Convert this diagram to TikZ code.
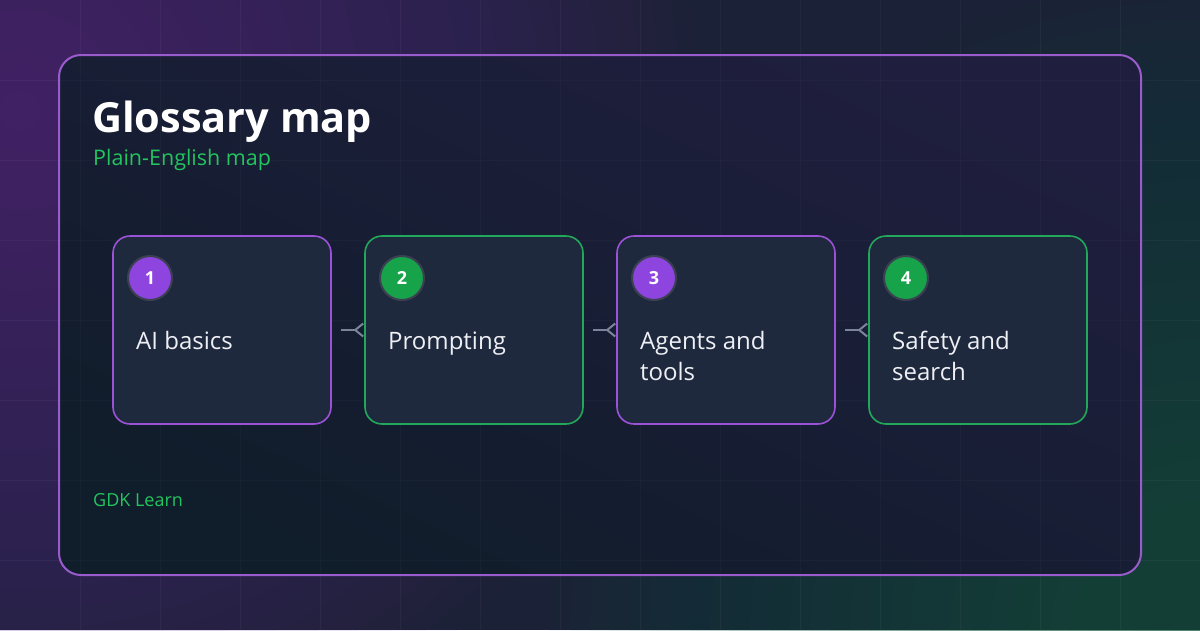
\documentclass[tikz,border=0pt]{standalone}
\usepackage{fontspec}
\setmainfont{Open Sans}
\usetikzlibrary{arrows.meta,calc}
\definecolor{bgbase}{HTML}{1B2136}
\definecolor{glowP}{HTML}{5B3886}
\definecolor{glowG}{HTML}{13573C}
\definecolor{glowT}{HTML}{20344A}
\definecolor{panelL}{HTML}{1F1E3E}
\definecolor{panelR}{HTML}{101D2A}
\definecolor{panelB}{HTML}{9A5CCC}
\definecolor{cardF}{HTML}{1F293D}
\definecolor{cPurple}{HTML}{9B52D6}
\definecolor{cGreen}{HTML}{22A85A}
\definecolor{dPurple}{HTML}{8E44DF}
\definecolor{dGreen}{HTML}{16A34A}
\definecolor{txtG}{HTML}{22C55E}
\definecolor{txtW}{HTML}{EEF0F5}
\definecolor{conn}{HTML}{7C849A}
\definecolor{ring}{HTML}{3C4152}
\tikzset{
  panel/.style={rounded corners=22pt, draw=panelB, line width=2pt, left color=panelL, right color=panelR, shading angle=-25, minimum width=1082pt, minimum height=520pt, inner sep=0pt},
  card/.style={rounded corners=17pt, fill=cardF, line width=1.6pt, minimum width=218pt, minimum height=188pt, inner sep=0pt},
  badge/.style={circle, draw=ring, line width=2pt, minimum size=44pt, inner sep=0pt, text=white, font=\fontsize{18}{20}\selectfont\bfseries},
  label/.style={anchor=base west, text=txtW, align=left, inner sep=0pt, font=\fontsize{24}{31}\selectfont},
  link/.style={draw=conn, line width=2pt, shorten <=9pt, -{Straight Barb[reversed, length=8pt, width=13pt, line width=2pt]}},
}
\begin{document}
\begin{tikzpicture}[x=1pt,y=-1pt]
\useasboundingbox (0,0) rectangle (1200,630);
% background
\fill[bgbase] (0,0) rectangle (1200,630);
\begin{scope}
\clip (0,0) rectangle (1200,630);
\foreach \r in {20,40,...,500} \fill[glowT, opacity=0.03] (1180,30) circle (\r);
\foreach \r in {20,40,...,680} \fill[glowP, opacity=0.036] (20,110) circle (\r);
\foreach \r in {20,40,...,660} \fill[glowG, opacity=0.04] (1210,640) circle (\r);
\foreach \gx in {80,160,...,1120} \draw[white, opacity=0.04, line width=1pt] (\gx,0) -- (\gx,630);
\foreach \gy in {80,160,...,560} \draw[white, opacity=0.04, line width=1pt] (0,\gy) -- (1200,\gy);
\end{scope}
% panel
\node[panel] (panel) at (600,315) {};
\begin{scope}
\clip[rounded corners=22pt] (60,56) rectangle (1140,574);
\foreach \gx in {80,160,...,1120} \draw[white, opacity=0.025, line width=1pt] (\gx,0) -- (\gx,630);
\foreach \gy in {80,160,...,560} \draw[white, opacity=0.025, line width=1pt] (0,\gy) -- (1200,\gy);
\end{scope}
% titles
\node[anchor=base west, inner sep=0pt, text=white, font=\fontsize{41.5}{48}\selectfont\bfseries] (title) at (92,132) {Glossary map};
\node[anchor=base west, inner sep=0pt, text=txtG, font=\fontsize{21.5}{24}\selectfont] (sub) at (93,165) {Plain-English map};
\node[anchor=base west, inner sep=0pt, text=txtG, font=\fontsize{18}{20}\selectfont] (brand) at (93,506) {GDK Learn};
% cards
\node[card, draw=cPurple] (b1) at (222,330) {};
\node[card, draw=cGreen]  (b2) at (474,330) {};
\node[card, draw=cPurple] (b3) at (726,330) {};
\node[card, draw=cGreen]  (b4) at (978,330) {};
% badges
\node[badge, fill=dPurple] (n1) at (150,278) {1};
\node[badge, fill=dGreen]  (n2) at (402,278) {2};
\node[badge, fill=dPurple] (n3) at (654,278) {3};
\node[badge, fill=dGreen]  (n4) at (906,278) {4};
% labels
\node[label] (t1) at (136,349) {AI basics};
\node[label] (t2) at (388,349) {Prompting};
\node[label] (t3) at (640,380) {Agents and\\tools};
\node[label] (t4) at (892,380) {Safety and\\search};
% connectors
\draw[link] (b1.east) -- (b2.west);
\draw[link] (b2.east) -- (b3.west);
\draw[link] (b3.east) -- (b4.west);
\end{tikzpicture}
\end{document}
